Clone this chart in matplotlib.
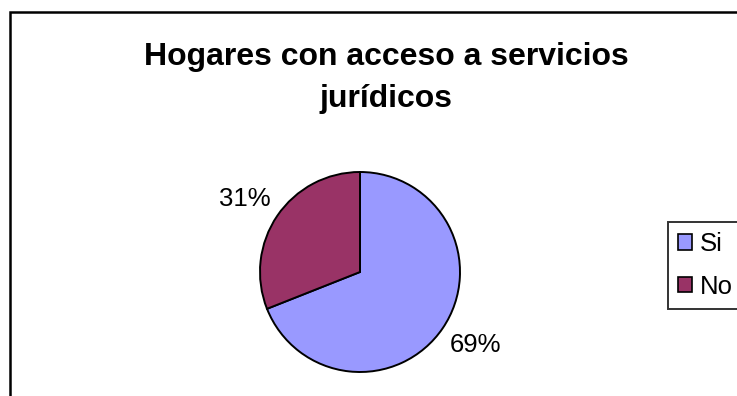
import matplotlib
matplotlib.use('Agg')
import matplotlib.pyplot as plt
from matplotlib.patches import Rectangle

plt.rcParams['font.family'] = ['Liberation Sans', 'DejaVu Sans']

title = 'Hogares con acceso a servicios\njurídicos'
categories = ['Si', 'No']
values = [69, 31]
colors = ['#9999FF', '#993366']

W, H = 737, 396
fig = plt.figure(figsize=(W / 100, H / 100), dpi=100)

# chart area border (extends past right/bottom edges)
fig.patches.append(Rectangle((10 / W, -0.1), 1.2, 1 - 12 / H + 0.1,
                             transform=fig.transFigure, fill=False,
                             edgecolor='black', linewidth=1.8))

fig.text(386 / W, 1 - 42 / H, title, ha='center', va='top',
         fontsize=23, fontweight='bold', linespacing=1.5)

# pie: centre ~(360, 272), radius ~100 px
ax = fig.add_axes([260 / W, (H - 272 - 100) / H, 200 / W, 200 / H])
wedges, texts = ax.pie(values, colors=colors, startangle=90,
                       counterclock=False,
                       labels=['%d%%' % v for v in values],
                       labeldistance=1.08,
                       wedgeprops=dict(edgecolor='black', linewidth=1.4),
                       textprops=dict(fontsize=18.5))
for t in texts:
    x, y = t.get_position()
    t.set_va('bottom' if y > 0 else 'top')
    t.set_clip_on(False)
ax.set_xlim(-1, 1)
ax.set_ylim(-1, 1)
ax.set_aspect('equal')
ax.axis('off')

leg = fig.legend(wedges, categories, loc='upper left',
                 bbox_to_anchor=(668 / W, 1 - 222 / H),
                 fontsize=18.5, frameon=True, fancybox=False,
                 handlelength=0.55, handleheight=0.55, handletextpad=0.3,
                 labelspacing=0.71, borderpad=0.4, borderaxespad=0)
leg.get_frame().set_edgecolor('black')
leg.get_frame().set_linewidth(1.4)
for p in leg.get_patches():
    p.set_linewidth(1.2)

fig.savefig('out.png', dpi=100)
